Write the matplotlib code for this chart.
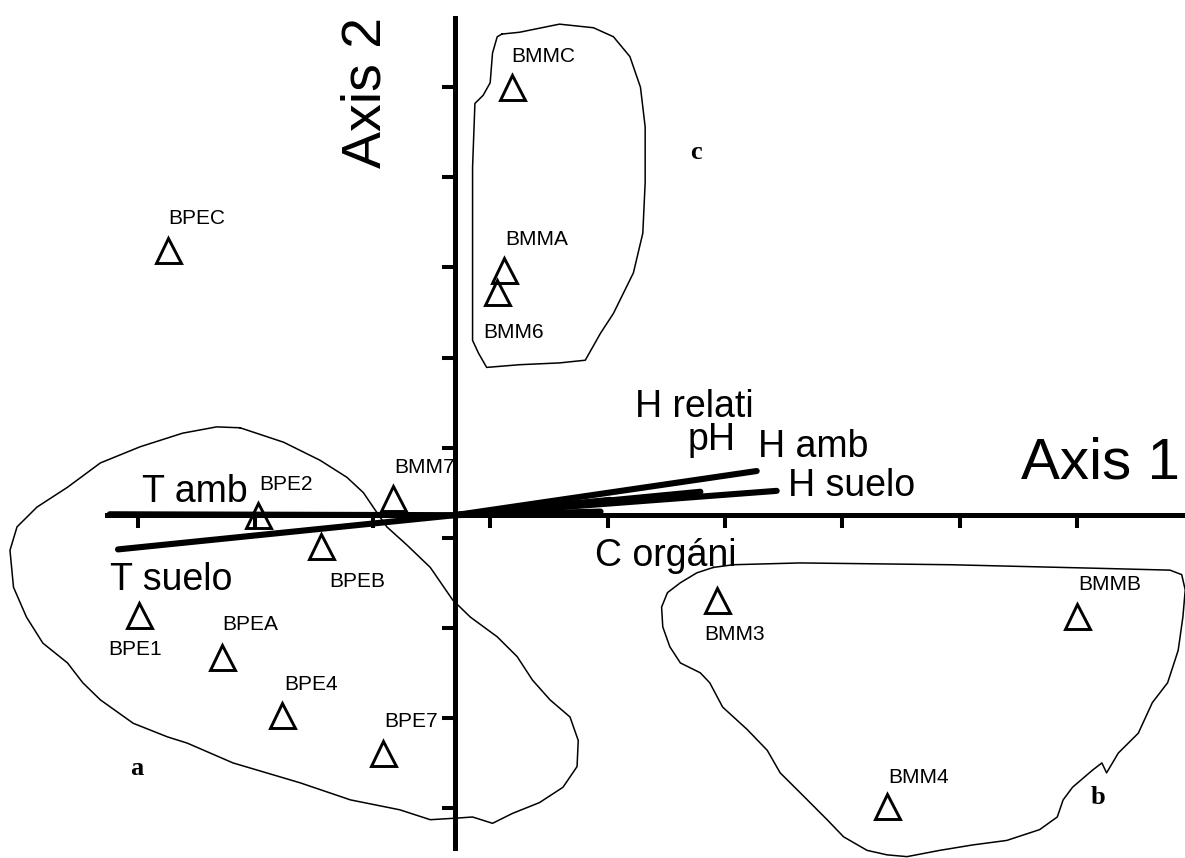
import numpy as np
import matplotlib
matplotlib.use('Agg')
import matplotlib.pyplot as plt

plt.rcParams['font.family'] = ['Liberation Sans', 'DejaVu Sans']

# site scores (axis 1, axis 2)
sites = ['BPEC', 'BMMC', 'BMMA', 'BMM6', 'BMM7', 'BPE2', 'BPEB',
         'BPE1', 'BPEA', 'BPE4', 'BPE7', 'BMM3', 'BMMB', 'BMM4']
ax1_score = [0.26, 3.19, 3.12, 3.06, 2.17, 1.02, 1.56,
             0.01, 0.72, 1.23, 2.09, 4.93, 8.00, 6.38]
ax2_score = [6.19, 8.00, 5.97, 5.73, 3.44, 3.25, 2.91,
             2.14, 1.68, 1.03, 0.61, 2.31, 2.13, 0.02]

# environmental vectors (from the axis crossing)
env_vars = ['T amb', 'T suelo', 'H relati', 'pH', 'H amb', 'H suelo', 'C orgáni']
env_dx = [-2.94, -2.87, 1.32, 2.09, 2.57, 2.74, 1.24]
env_dy = [0.01, -0.38, 0.17, 0.26, 0.49, 0.27, 0.04]

# where the two axes cross
x0, y0 = 2.70, 3.25

# group outlines (hand drawn in the original)
grp_a_x = [0.87, 1.24, 1.55, 1.78, 1.92, 2.04, 2.12, 2.29, 2.49, 2.68, 2.83, 3.06,
           3.23, 3.36, 3.51, 3.68, 3.75, 3.74, 3.62, 3.42, 3.19, 3.02, 2.85, 2.74,
           2.49, 2.23, 1.81, 1.38, 0.81, 0.42, 0.25, -0.04, -0.32, -0.47, -0.60,
           -0.81, -0.95, -1.06, -1.09, -1.03, -0.86, -0.60, -0.32, 0.02, 0.38, 0.67]
grp_a_y = [4.22, 4.06, 3.86, 3.67, 3.50, 3.27, 3.12, 2.92, 2.67, 2.31, 2.12, 1.90,
           1.68, 1.42, 1.20, 1.01, 0.75, 0.46, 0.23, 0.06, -0.06, -0.17, -0.10, -0.11,
           -0.13, -0.02, 0.09, 0.28, 0.50, 0.72, 0.79, 0.94, 1.20, 1.39, 1.61,
           1.83, 2.12, 2.45, 2.86, 3.12, 3.34, 3.56, 3.83, 4.01, 4.16, 4.23]

grp_b_x = [4.90, 5.07, 5.64, 6.92, 8.19, 8.79, 8.89, 8.92, 8.90, 8.86, 8.77, 8.64,
           8.52, 8.35, 8.25, 8.21, 8.13, 7.96, 7.88, 7.83, 7.68, 7.40, 7.11, 6.83,
           6.55, 6.38, 6.21, 6.01, 5.87, 5.64, 5.47, 5.36, 5.19, 4.98, 4.87, 4.79,
           4.62, 4.53, 4.47, 4.46, 4.51, 4.62, 4.76]
grp_b_y = [2.67, 2.70, 2.72, 2.70, 2.66, 2.64, 2.59, 2.42, 2.12, 1.75, 1.39, 1.17,
           0.83, 0.61, 0.39, 0.50, 0.42, 0.23, 0.09, -0.10, -0.24, -0.36, -0.41, -0.47,
           -0.54, -0.52, -0.47, -0.32, -0.13, 0.17, 0.39, 0.64, 0.87, 1.12, 1.39, 1.50,
           1.61, 1.79, 2.01, 2.23, 2.39, 2.50, 2.61]

grp_c_x = [3.10, 3.25, 3.59, 3.88, 4.05, 4.19, 4.28, 4.32, 4.32, 4.30, 4.22, 4.05,
           3.94, 3.81, 3.59, 3.25, 2.97, 2.90, 2.85, 2.85, 2.85, 2.87, 2.94, 3.00,
           3.02, 3.06]
grp_c_y = [8.59, 8.61, 8.70, 8.66, 8.56, 8.34, 8.00, 7.56, 6.94, 6.38, 5.94, 5.49,
           5.27, 4.97, 4.94, 4.92, 4.89, 5.05, 5.19, 6.00, 7.11, 7.82, 7.91, 8.05,
           8.38, 8.56]

groups = ['a', 'b', 'c']
group_lx = [-0.01, 8.18, 4.75]
group_ly = [0.44, 0.12, 7.27]

# label offsets in points
site_off = [(0, 23), (-1, 22), (1, 22), (-10, -29), (1, 22), (1, 22), (6, -26),
            (-22, -25), (0, 23), (1, 22), (1, 23), (-9, -25), (1, 23), (1, 21)]
env_off = [(23, 9), (-6, -29), (18, 60), (-9, 30), (1, 10), (8, -4), (-4, -39)]


fig = plt.figure(figsize=(11.85, 8.58), dpi=100)
ax = fig.add_axes([0, 0, 1, 1])
ax.set_xlim(-1.175, 8.918)
ax.set_ylim(-0.555, 8.968)

# axes through the centroid
for s in ['top', 'right']:
    ax.spines[s].set_visible(False)
ax.spines['bottom'].set_position(('data', y0))
ax.spines['left'].set_position(('data', x0))
ax.spines['bottom'].set_bounds(-0.26, 8.918)
ax.spines['left'].set_bounds(-0.44, 8.77)
for s in ['bottom', 'left']:
    ax.spines[s].set_linewidth(3.6)
ax.set_xticks(range(9))
ax.set_yticks(range(9))
ax.tick_params(direction='out', length=9.5, width=2.9, labelbottom=False, labelleft=False)

# outlines
for gx, gy in [(grp_a_x, grp_a_y), (grp_b_x, grp_b_y), (grp_c_x, grp_c_y)]:
    ax.plot(gx + gx[:1], gy + gy[:1], color='black', lw=1.1, zorder=2)

# env vectors
for name, dx, dy, off in zip(env_vars, env_dx, env_dy, env_off):
    ax.plot([x0, x0 + dx], [y0, y0 + dy], color='black', lw=4.4,
            solid_capstyle='round', zorder=3)
    ax.annotate(name, (x0 + dx, y0 + dy), xytext=off, textcoords='offset points',
                ha='left', va='baseline', fontsize=27)

# sites
ax.plot(ax1_score, ax2_score, ls='none', marker='^', ms=18, mfc='none',
        mec='black', mew=2.1, zorder=4)
for name, sx, sy, off in zip(sites, ax1_score, ax2_score, site_off):
    ax.annotate(name, (sx, sy), xytext=off, textcoords='offset points',
                ha='left', va='center', fontsize=15)

for g, gx, gy in zip(groups, group_lx, group_ly):
    ax.text(gx, gy, g, ha='center', va='center', fontsize=19, fontweight='bold',
            family='Liberation Serif')

ax.text(8.876, 3.66, 'Axis 1', ha='right', va='baseline', fontsize=42)
ax.text(1.95, 7.94, 'Axis 2', ha='center', va='center', fontsize=40, rotation=90)

fig.savefig('out.png', dpi=100)
